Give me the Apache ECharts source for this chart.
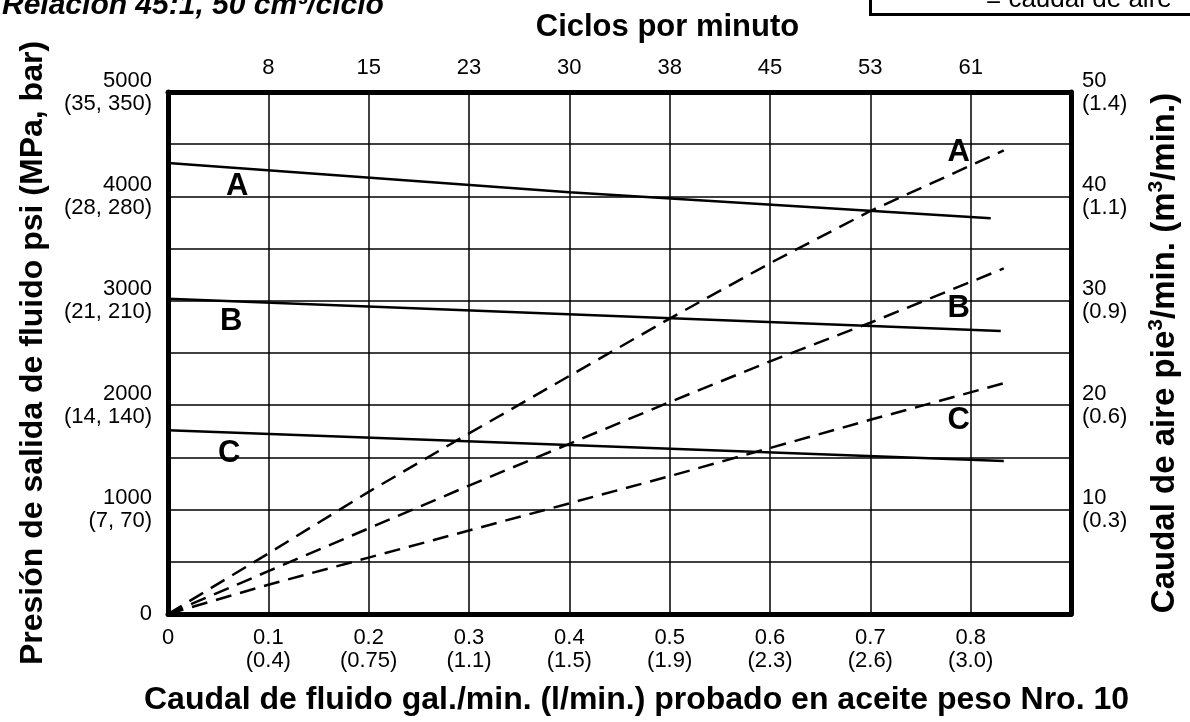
<!DOCTYPE html>
<html>
<head>
<meta charset="utf-8">
<script src="https://cdn.jsdelivr.net/npm/echarts@6/dist/echarts.min.js"></script>
<style>
html,body{margin:0;padding:0;background:#fff;}
#chart{width:1190px;height:722px;}
</style>
</head>
<body>
<div id="chart"></div>
<script>
// ---- data ----
const gpmTicks = ['0', '0.1', '0.2', '0.3', '0.4', '0.5', '0.6', '0.7', '0.8'];
const lpmTicks = ['', '(0.4)', '(0.75)', '(1.1)', '(1.5)', '(1.9)', '(2.3)', '(2.6)', '(3.0)'];
const cycleTicks = ['', '8', '15', '23', '30', '38', '45', '53', '61'];
const psiMetric = ['', '(7, 70)', '(14, 140)', '(21, 210)', '(28, 280)', '(35, 350)'];
const cmmTicks = ['', '(0.3)', '(0.6)', '(0.9)', '(1.1)', '(1.4)'];

// fluid outlet pressure (psi) vs fluid flow (gpm)
const pressureA = [[0, 4320], [0.4, 4040], [0.82, 3790]];
const pressureB = [[0, 3020], [0.83, 2710]];
const pressureC = [[0, 1760], [0.833, 1465]];

// air consumption (scfm) vs fluid flow (gpm)
const airA = [[0, 0], [0.1, 5.8], [0.2, 11.7], [0.3, 17.3], [0.4, 22.8], [0.5, 28.3], [0.6, 33.6], [0.7, 38.6], [0.833, 44.4]];
const airB = [[0, 0], [0.1, 4.1], [0.2, 8.2], [0.3, 12.3], [0.4, 16.3], [0.5, 20.3], [0.6, 24.2], [0.7, 27.9], [0.833, 33.1]];
const airC = [[0, 0], [0.1, 2.8], [0.2, 5.4], [0.3, 8.0], [0.4, 10.6], [0.5, 13.2], [0.6, 15.9], [0.7, 18.6], [0.833, 22.1]];

// curve letters (x in gpm, y in psi)
const letterMarks = [
  [0.069, 4100, 'A'], [0.063, 2800, 'B'], [0.061, 1540, 'C'],
  [0.788, 4420, 'A'], [0.788, 2930, 'B'], [0.788, 1850, 'C']
];

const titleText = 'Relación 45:1, 50 cm³/ciclo';
const legendText = '= caudal de aire';
const topAxisName = 'Ciclos por minuto';
const bottomAxisName = 'Caudal de fluido gal./min. (l/min.) probado en aceite peso Nro. 10';
const leftAxisName = 'Presión de salida de fluido psi (MPa, bar)';

// ---- chart ----
const FONT = 'Liberation Sans';
const chart = echarts.init(document.getElementById('chart'), null, {renderer: 'canvas'});
const thick = {show: true, onZero: false, lineStyle: {color: '#000', width: 5}};
const grid = {show: true, lineStyle: {color: '#000', width: 1.5}};

const solid = (d) => ({type: 'line', xAxisIndex: 0, yAxisIndex: 0, data: d, symbol: 'none',
  lineStyle: {color: '#000', width: 2.5}, silent: true});
const dashed = (d) => ({type: 'line', xAxisIndex: 0, yAxisIndex: 1, data: d, symbol: 'none',
  lineStyle: {color: '#000', width: 2.5, type: [16, 9]}, silent: true});

chart.setOption({
  animation: false,
  textStyle: {fontFamily: FONT},
  grid: {left: 168, right: 119, top: 92, bottom: 108},
  xAxis: [{
    type: 'value', min: 0, max: 0.9, interval: 0.1, position: 'bottom',
    axisLine: thick, axisTick: {show: false}, splitLine: grid,
    axisLabel: {color: '#000', fontSize: 22, fontFamily: FONT, margin: 12, lineHeight: 23,
      formatter: v => { const i = Math.round(v * 10); if (i > 8) return ''; if (i === 0) return gpmTicks[0]; return gpmTicks[i] + '\n' + lpmTicks[i]; }},
    name: bottomAxisName, nameLocation: 'middle', nameGap: 70,
    nameTextStyle: {color: '#000', fontSize: 32, fontWeight: 'bold', fontFamily: FONT, padding: [0, 0, 0, 34]}
  }, {
    type: 'value', min: 0, max: 0.9, interval: 0.1, position: 'top',
    axisLine: thick, axisTick: {show: false}, splitLine: {show: false},
    axisLabel: {color: '#000', fontSize: 22, fontFamily: FONT, margin: 13,
      formatter: v => { const i = Math.round(v * 10); return i > 8 ? '' : cycleTicks[i]; }},
    name: topAxisName, nameLocation: 'middle', nameGap: 49,
    nameTextStyle: {color: '#000', fontSize: 31, fontWeight: 'bold', fontFamily: FONT, padding: [0, 0, 0, 96]}
  }],
  yAxis: [{
    type: 'value', min: 0, max: 5000, interval: 500, position: 'left',
    axisLine: thick, axisTick: {show: false}, splitLine: grid,
    axisLabel: {color: '#000', fontSize: 22, fontFamily: FONT, margin: 16, lineHeight: 23, align: 'right', padding: [7, 0, 0, 0],
      formatter: v => { if (v % 1000 !== 0) return ''; if (v === 0) return '0'; return v + '\n' + psiMetric[v / 1000]; }},
    name: leftAxisName, nameLocation: 'middle', nameGap: 119, nameRotate: 90,
    nameTextStyle: {color: '#000', fontSize: 32, fontWeight: 'bold', fontFamily: FONT}
  }, {
    type: 'value', min: 0, max: 50, interval: 10, position: 'right',
    axisLine: thick, axisTick: {show: false}, splitLine: {show: false},
    axisLabel: {color: '#000', fontSize: 22, fontFamily: FONT, margin: 11, lineHeight: 23, align: 'left', padding: [7, 0, 0, 0],
      formatter: v => { const i = Math.round(v / 10); return i === 0 ? '' : v + '\n' + cmmTicks[i]; }},
    name: '{a|Caudal de aire pie}{s|3}{a|/min. (m}{s|3}{a|/min.)}', nameLocation: 'middle', nameGap: 75, nameRotate: 90,
    nameTextStyle: {color: '#000', fontFamily: FONT,
      rich: {
        a: {fontSize: 33, fontWeight: 'bold', fontFamily: FONT, color: '#000', lineHeight: 38},
        s: {fontSize: 21, fontWeight: 'bold', fontFamily: FONT, color: '#000', verticalAlign: 'top', lineHeight: 38, padding: [0, 0, 10, 0]}
      }}
  }],
  series: [
    solid(pressureA), solid(pressureB), solid(pressureC),
    dashed(airA), dashed(airB), dashed(airC),
    {
      type: 'scatter', xAxisIndex: 0, yAxisIndex: 0, data: letterMarks, symbolSize: 1,
      itemStyle: {color: 'rgba(0,0,0,0)', opacity: 1}, silent: true,
      label: {show: true, position: 'inside', color: '#000', opacity: 1, fontSize: 31, fontWeight: 'bold', fontFamily: FONT,
        formatter: p => p.value[2]}
    }
  ],
  graphic: [
    {type: 'text', left: 2, top: -9, silent: true,
      style: {text: titleText, fill: '#000', font: 'italic bold 30px "Liberation Sans"'}},
    {type: 'rect', left: 869, top: -50, silent: true,
      shape: {width: 400, height: 63}, style: {fill: '#fff', stroke: '#000', lineWidth: 3}},
    {type: 'text', left: 986, top: -13, silent: true,
      style: {text: legendText, fill: '#000', font: '26px "Liberation Sans"'}}
  ]
});
</script>
</body>
</html>
